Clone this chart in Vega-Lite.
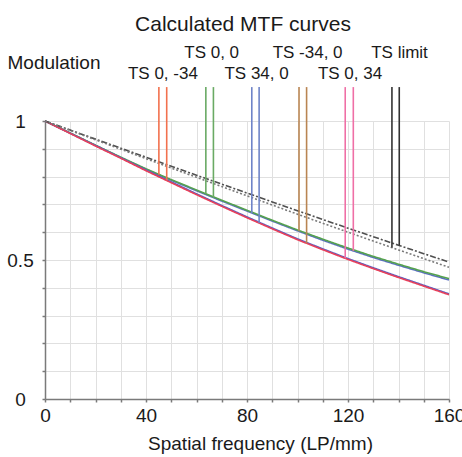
{
  "$schema": "https://vega.github.io/schema/vega-lite/v6.json",
  "width": 404,
  "height": 278,
  "autosize": {"type": "none"},
  "padding": {"left": 45, "top": 121, "right": 13, "bottom": 58},
  "background": "white",
  "config": {"view": {"stroke": null}, "font": "Liberation Sans"},
  "title": {"text": "Calculated MTF curves", "fontSize": 21, "fontWeight": "normal", "color": "#1a1a1a", "anchor": "middle", "frame": "group", "dx": -4, "dy": -5},
  "datasets": {
    "curves": [
      {"key": "Upper B", "f": 0, "m": 1.0}, {"key": "Upper B", "f": 10, "m": 0.956}, {"key": "Upper B", "f": 20, "m": 0.912}, {"key": "Upper B", "f": 30, "m": 0.868}, {"key": "Upper B", "f": 40, "m": 0.826}, {"key": "Upper B", "f": 50, "m": 0.787}, {"key": "Upper B", "f": 60, "m": 0.749}, {"key": "Upper B", "f": 70, "m": 0.712}, {"key": "Upper B", "f": 80, "m": 0.676}, {"key": "Upper B", "f": 90, "m": 0.640}, {"key": "Upper B", "f": 100, "m": 0.605}, {"key": "Upper B", "f": 110, "m": 0.571}, {"key": "Upper B", "f": 120, "m": 0.539}, {"key": "Upper B", "f": 130, "m": 0.509}, {"key": "Upper B", "f": 140, "m": 0.481}, {"key": "Upper B", "f": 150, "m": 0.454}, {"key": "Upper B", "f": 160, "m": 0.428},
      {"key": "Upper G", "f": 0, "m": 1.0}, {"key": "Upper G", "f": 10, "m": 0.957}, {"key": "Upper G", "f": 20, "m": 0.913}, {"key": "Upper G", "f": 30, "m": 0.870}, {"key": "Upper G", "f": 40, "m": 0.828}, {"key": "Upper G", "f": 50, "m": 0.789}, {"key": "Upper G", "f": 60, "m": 0.752}, {"key": "Upper G", "f": 70, "m": 0.715}, {"key": "Upper G", "f": 80, "m": 0.679}, {"key": "Upper G", "f": 90, "m": 0.643}, {"key": "Upper G", "f": 100, "m": 0.608}, {"key": "Upper G", "f": 110, "m": 0.575}, {"key": "Upper G", "f": 120, "m": 0.543}, {"key": "Upper G", "f": 130, "m": 0.513}, {"key": "Upper G", "f": 140, "m": 0.485}, {"key": "Upper G", "f": 150, "m": 0.458}, {"key": "Upper G", "f": 160, "m": 0.433},
      {"key": "Lower B", "f": 0, "m": 1.0}, {"key": "Lower B", "f": 10, "m": 0.956}, {"key": "Lower B", "f": 20, "m": 0.912}, {"key": "Lower B", "f": 30, "m": 0.868}, {"key": "Lower B", "f": 40, "m": 0.824}, {"key": "Lower B", "f": 50, "m": 0.781}, {"key": "Lower B", "f": 60, "m": 0.738}, {"key": "Lower B", "f": 70, "m": 0.696}, {"key": "Lower B", "f": 80, "m": 0.655}, {"key": "Lower B", "f": 90, "m": 0.615}, {"key": "Lower B", "f": 100, "m": 0.576}, {"key": "Lower B", "f": 110, "m": 0.540}, {"key": "Lower B", "f": 120, "m": 0.505}, {"key": "Lower B", "f": 130, "m": 0.472}, {"key": "Lower B", "f": 140, "m": 0.440}, {"key": "Lower B", "f": 150, "m": 0.409}, {"key": "Lower B", "f": 160, "m": 0.378},
      {"key": "Lower R", "f": 0, "m": 1.0}, {"key": "Lower R", "f": 10, "m": 0.955}, {"key": "Lower R", "f": 20, "m": 0.910}, {"key": "Lower R", "f": 30, "m": 0.866}, {"key": "Lower R", "f": 40, "m": 0.821}, {"key": "Lower R", "f": 50, "m": 0.778}, {"key": "Lower R", "f": 60, "m": 0.735}, {"key": "Lower R", "f": 70, "m": 0.693}, {"key": "Lower R", "f": 80, "m": 0.652}, {"key": "Lower R", "f": 90, "m": 0.612}, {"key": "Lower R", "f": 100, "m": 0.573}, {"key": "Lower R", "f": 110, "m": 0.537}, {"key": "Lower R", "f": 120, "m": 0.502}, {"key": "Lower R", "f": 130, "m": 0.469}, {"key": "Lower R", "f": 140, "m": 0.437}, {"key": "Lower R", "f": 150, "m": 0.406}, {"key": "Lower R", "f": 160, "m": 0.375},
      {"key": "Limit T", "f": 0, "m": 1.0}, {"key": "Limit T", "f": 10, "m": 0.9674}, {"key": "Limit T", "f": 20, "m": 0.9348}, {"key": "Limit T", "f": 30, "m": 0.9023}, {"key": "Limit T", "f": 40, "m": 0.8697}, {"key": "Limit T", "f": 50, "m": 0.8373}, {"key": "Limit T", "f": 60, "m": 0.8050}, {"key": "Limit T", "f": 70, "m": 0.7729}, {"key": "Limit T", "f": 80, "m": 0.7408}, {"key": "Limit T", "f": 90, "m": 0.7090}, {"key": "Limit T", "f": 100, "m": 0.6773}, {"key": "Limit T", "f": 110, "m": 0.6458}, {"key": "Limit T", "f": 120, "m": 0.6146}, {"key": "Limit T", "f": 130, "m": 0.5838}, {"key": "Limit T", "f": 140, "m": 0.5531}, {"key": "Limit T", "f": 150, "m": 0.5228}, {"key": "Limit T", "f": 160, "m": 0.4927},
      {"key": "Limit S", "f": 0, "m": 1.0}, {"key": "Limit S", "f": 10, "m": 0.9661}, {"key": "Limit S", "f": 20, "m": 0.9323}, {"key": "Limit S", "f": 30, "m": 0.8985}, {"key": "Limit S", "f": 40, "m": 0.8645}, {"key": "Limit S", "f": 50, "m": 0.8309}, {"key": "Limit S", "f": 60, "m": 0.7974}, {"key": "Limit S", "f": 70, "m": 0.7641}, {"key": "Limit S", "f": 80, "m": 0.7308}, {"key": "Limit S", "f": 90, "m": 0.6978}, {"key": "Limit S", "f": 100, "m": 0.6648}, {"key": "Limit S", "f": 110, "m": 0.6322}, {"key": "Limit S", "f": 120, "m": 0.6000}, {"key": "Limit S", "f": 130, "m": 0.5681}, {"key": "Limit S", "f": 140, "m": 0.5364}, {"key": "Limit S", "f": 150, "m": 0.5050}, {"key": "Limit S", "f": 160, "m": 0.4737}
    ],
    "markers": [
      {"key": "TS 0, -34", "f": 45.1, "bottom": 0.807},
      {"key": "TS 0, -34", "f": 48.2, "bottom": 0.787},
      {"key": "TS 0, 0", "f": 63.7, "bottom": 0.738},
      {"key": "TS 0, 0", "f": 66.7, "bottom": 0.724},
      {"key": "TS 34, 0", "f": 81.9, "bottom": 0.669},
      {"key": "TS 34, 0", "f": 84.8, "bottom": 0.633},
      {"key": "TS -34, 0", "f": 100.6, "bottom": 0.603},
      {"key": "TS -34, 0", "f": 103.6, "bottom": 0.560},
      {"key": "TS 0, 34", "f": 118.9, "bottom": 0.506},
      {"key": "TS 0, 34", "f": 122.1, "bottom": 0.533},
      {"key": "TS limit", "f": 137.4, "bottom": 0.545},
      {"key": "TS limit", "f": 140.3, "bottom": 0.552}
    ],
    "labels": [
      {"label": "TS 0, -34", "f": 46.7, "tier": "lower"},
      {"label": "TS 0, 0", "f": 66.0, "tier": "upper"},
      {"label": "TS 34, 0", "f": 83.8, "tier": "lower"},
      {"label": "TS -34, 0", "f": 104.0, "tier": "upper"},
      {"label": "TS 0, 34", "f": 120.8, "tier": "lower"},
      {"label": "TS limit", "f": 140.4, "tier": "upper"}
    ]
  },
  "layer": [
    {
      "data": {"name": "curves"},
      "mark": {"type": "line", "strokeWidth": 1.6},
      "encoding": {
        "x": {
          "field": "f", "type": "quantitative",
          "scale": {"domain": [0, 160], "nice": false, "zero": true},
          "axis": {
            "values": [0, 10, 20, 30, 40, 50, 60, 70, 80, 90, 100, 110, 120, 130, 140, 150, 160],
            "tickCount": 100,
            "labelExpr": "datum.value % 40 === 0 ? datum.label : ''",
            "title": "Spatial frequency (LP/mm)",
            "grid": true, "gridColor": "#e0e0e0", "gridWidth": 1,
            "domainColor": "#7a7a7a", "domainWidth": 1.5,
            "tickColor": "#7a7a7a", "tickSize": 3, "tickWidth": 1.5,
            "labelFontSize": 19, "labelColor": "#1a1a1a", "labelPadding": 4, "labelFlush": false, "labelOverlap": false,
            "titleFontSize": 19, "titleFontWeight": "normal", "titleColor": "#1a1a1a",
            "titleX": 215, "titleY": 44, "titleAlign": "center", "titleBaseline": "middle"
          }
        },
        "y": {
          "field": "m", "type": "quantitative",
          "scale": {"domain": [0, 1], "nice": false},
          "axis": {
            "values": [0, 0.1, 0.2, 0.3, 0.4, 0.5, 0.6, 0.7, 0.8, 0.9, 1],
            "tickCount": 100,
            "labelExpr": "datum.value === 0 ? '0' : (abs(datum.value - 0.5) < 0.001 ? '0.5' : (datum.value === 1 ? '1' : ''))",
            "title": "Modulation",
            "grid": true, "gridColor": "#e0e0e0", "gridWidth": 1,
            "domainColor": "#7a7a7a", "domainWidth": 1.5,
            "tickColor": "#7a7a7a", "tickSize": 3, "tickWidth": 1.5,
            "labelFontSize": 19, "labelColor": "#1a1a1a", "labelPadding": 22, "labelAlign": "center", "labelBaseline": "middle", "labelOverlap": false, "labelFlush": false,
            "titleFontSize": 19, "titleFontWeight": "normal", "titleColor": "#1a1a1a",
            "titleAngle": 0, "titleAlign": "left", "titleBaseline": "middle", "titleX": -38, "titleY": -59
          }
        },
        "color": {
          "field": "key", "type": "nominal",
          "scale": {
            "domain": ["Upper B", "Upper G", "Lower B", "Lower R", "Limit T", "Limit S", "TS 0, -34", "TS 0, 0", "TS 34, 0", "TS -34, 0", "TS 0, 34", "TS limit"],
            "range": ["#5a6fc0", "#55a24e", "#5a60c0", "#e8405a", "#505050", "#7a7a7a", "#f2714e", "#6aaa64", "#6f84c8", "#b98552", "#ef6fa6", "#333333"]
          },
          "legend": null
        },
        "strokeDash": {
          "field": "key", "type": "nominal",
          "scale": {"domain": ["Upper B", "Upper G", "Lower B", "Lower R", "Limit T", "Limit S"], "range": [[1, 0], [1, 0], [1, 0], [1, 0], [6, 2, 2, 2], [2, 2]]},
          "legend": null
        }
      }
    },
    {
      "data": {"name": "markers"},
      "mark": {"type": "rule", "strokeWidth": 1.6},
      "encoding": {
        "x": {"field": "f", "type": "quantitative"},
        "y": {"field": "bottom", "type": "quantitative"},
        "y2": {"datum": 1.122},
        "color": {"field": "key", "type": "nominal"}
      }
    },
    {
      "data": {"name": "labels"},
      "transform": [{"filter": "datum.tier === 'upper'"}],
      "mark": {"type": "text", "fontSize": 17, "baseline": "alphabetic", "align": "center", "color": "#1a1a1a"},
      "encoding": {
        "x": {"field": "f", "type": "quantitative"},
        "y": {"datum": 1.2284, "type": "quantitative"},
        "text": {"field": "label", "type": "nominal"}
      }
    },
    {
      "data": {"name": "labels"},
      "transform": [{"filter": "datum.tier === 'lower'"}],
      "mark": {"type": "text", "fontSize": 17, "baseline": "alphabetic", "align": "center", "color": "#1a1a1a"},
      "encoding": {
        "x": {"field": "f", "type": "quantitative"},
        "y": {"datum": 1.1511, "type": "quantitative"},
        "text": {"field": "label", "type": "nominal"}
      }
    }
  ]
}
